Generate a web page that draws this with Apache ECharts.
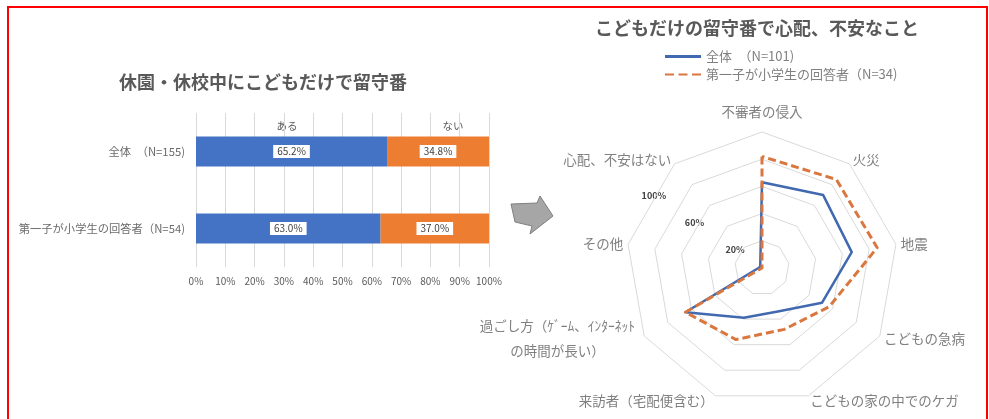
<!DOCTYPE html>
<html><head><meta charset="utf-8">
<script src="https://cdn.jsdelivr.net/npm/echarts@6/dist/echarts.min.js"></script>
<style>html,body{margin:0;padding:0;background:#fff}#c{width:989px;height:419px}</style>
</head><body><div id="c"></div>
<script>
// ---- data: left stacked bar ----
const barCategories = ['全体　（N=155)', '第一子が小学生の回答者（N=54)'];
const barSeriesNames = ['ある', 'ない'];
const aruValues = [65.2, 63.0];
const naiValues = [34.8, 37.0];

// ---- data: right radar (clockwise from top) ----
const radarIndicators = ['不審者の侵入', '火災', '地震', 'こどもの急病', 'こどもの家の中でのケガ',
  '来訪者（宅配便含む）', '過ごし方（ｹﾞｰﾑ、ｲﾝﾀｰﾈｯﾄ\nの時間が長い）', 'その他', '心配、不安はない'];
const radarSeriesNames = ['全体　（N=101)', '第一子が小学生の回答者（N=34)'];
const zentaiValues = [63, 70, 67, 51, 34, 39, 65, 2, 2];
const daiichiValues = [82, 85, 86, 57, 48, 56, 65, 0, 0];
const radarTickLabels = [20, 60, 100];

const titles = ['休園・休校中にこどもだけで留守番', 'こどもだけの留守番で心配、不安なこと'];

// ---- layout ----
const FONT = "'Noto Sans CJK JP', 'Noto Sans', sans-serif";
const RC = [762, 268], RR = 136;
const BLUE = '#4472C4', ORANGE = '#ED7D31';
const LBLUE = '#4169B0', LORANGE = '#D9773F';
// ECharts lays radar indicators counter-clockwise; reorder so they read clockwise
const order = radarIndicators.map((_, i) => (radarIndicators.length - i) % radarIndicators.length);

const chart = echarts.init(document.getElementById('c'));

function tickLabelGraphic(v) {
  const ang = 56 * Math.PI / 180;
  const r = RR * v / 100 * 0.9 + 8;
  return {
    type: 'text', x: RC[0] - Math.sin(ang) * r, y: RC[1] - Math.cos(ang) * r,
    style: { text: v + '%', fill: '#404040', font: 'bold 9px ' + FONT, align: 'center', verticalAlign: 'middle' }
  };
}

chart.setOption({
  animation: false,
  textStyle: { fontFamily: FONT },
  title: [
    { text: titles[0], left: 114, top: 68, textStyle: { fontSize: 18, fontWeight: 'bold', color: '#595959', fontFamily: FONT } },
    { text: titles[1], left: 590, top: 14, textStyle: { fontSize: 18, fontWeight: 'bold', color: '#595959', fontFamily: FONT } }
  ],
  legend: {
    orient: 'vertical', left: 665, top: 49, padding: 0,
    itemWidth: 36, itemHeight: 3, itemGap: 3,
    itemStyle: { borderWidth: 0 },
    textStyle: { color: '#808080', fontSize: 13, lineHeight: 15, fontFamily: FONT },
    data: [
      { name: radarSeriesNames[0], icon: 'rect' },
      { name: radarSeriesNames[1], icon: 'path://M0 0h9v2h-9z M13.5 0h9v2h-9z M27 0h9v2h-9z' }
    ]
  },
  grid: { left: 196, right: 500, top: 113, bottom: 152, containLabel: false },
  xAxis: {
    type: 'value', min: 0, max: 100, interval: 10,
    axisLine: { show: false }, axisTick: { show: false },
    axisLabel: { formatter: '{value}%', color: '#595959', fontSize: 10, margin: 9 },
    splitLine: { lineStyle: { color: '#d9d9d9' } }
  },
  yAxis: {
    type: 'category', inverse: true, data: barCategories,
    axisLine: { show: false }, axisTick: { show: false },
    axisLabel: { color: '#6b6b6b', fontSize: 11.3, margin: 11 }
  },
  radar: {
    center: RC, radius: RR, startAngle: 90, splitNumber: 5, shape: 'polygon',
    indicator: order.map(i => ({ name: radarIndicators[i], min: 0, max: 100 })),
    nameGap: 5,
    axisName: {
      color: '#808080', fontSize: 13.5, fontFamily: FONT,
      formatter: function (name) {
        if (name === radarIndicators[0]) return '{top|' + name + '}';
        if (name.indexOf('\n') >= 0) return name.split('\n').map(l => '{c|' + l + '}').join('\n');
        return name;
      },
      rich: {
        top: { padding: [0, 0, 8, 0], color: '#808080', fontSize: 13.5, fontFamily: FONT },
        c: { width: 165, align: 'center', lineHeight: 25, color: '#808080', fontSize: 13.5, fontFamily: FONT }
      }
    },
    splitLine: { lineStyle: { color: '#d9d9d9', width: 1 } },
    splitArea: { show: false },
    axisLine: { show: false },
    axisTick: { show: false },
    axisLabel: { show: false }
  },
  series: [
    {
      name: barSeriesNames[0], type: 'bar', stack: 'a', barWidth: 30, data: aruValues,
      itemStyle: { color: BLUE },
      label: { show: true, position: 'inside', formatter: p => p.value.toFixed(1) + '%', backgroundColor: '#fff', padding: [2, 4, 1, 4], color: '#404040', fontSize: 10 }
    },
    {
      name: barSeriesNames[1], type: 'bar', stack: 'a', barWidth: 30, data: naiValues,
      itemStyle: { color: ORANGE },
      label: { show: true, position: 'inside', formatter: p => p.value.toFixed(1) + '%', backgroundColor: '#fff', padding: [2, 4, 1, 4], color: '#404040', fontSize: 10 }
    },
    {
      type: 'radar', symbol: 'none',
      data: [
        { name: radarSeriesNames[0], value: order.map(i => zentaiValues[i]), lineStyle: { color: LBLUE, width: 2.5 }, itemStyle: { color: LBLUE } },
        { name: radarSeriesNames[1], value: order.map(i => daiichiValues[i]), lineStyle: { color: LORANGE, width: 3, type: [8, 4] }, itemStyle: { color: LORANGE } }
      ]
    }
  ],
  graphic: [
    { type: 'rect', shape: { x: 8, y: 7, width: 979, height: 430 }, style: { fill: 'none', stroke: '#ff0000', lineWidth: 2 }, silent: true },
    { type: 'text', x: 287, y: 126, style: { text: barSeriesNames[0], fill: '#595959', font: '10.5px ' + FONT, align: 'center', verticalAlign: 'middle' } },
    { type: 'text', x: 453, y: 126, style: { text: barSeriesNames[1], fill: '#595959', font: '10.5px ' + FONT, align: 'center', verticalAlign: 'middle' } },
    { type: 'polygon', shape: { points: [[511, 204], [537, 203], [540, 196], [553, 216], [530, 234], [532, 226], [515, 222]] }, style: { fill: '#a6a6a6', stroke: '#7f7f7f', lineWidth: 1 } }
  ].concat(radarTickLabels.map(tickLabelGraphic))
});
</script>
</body></html>
